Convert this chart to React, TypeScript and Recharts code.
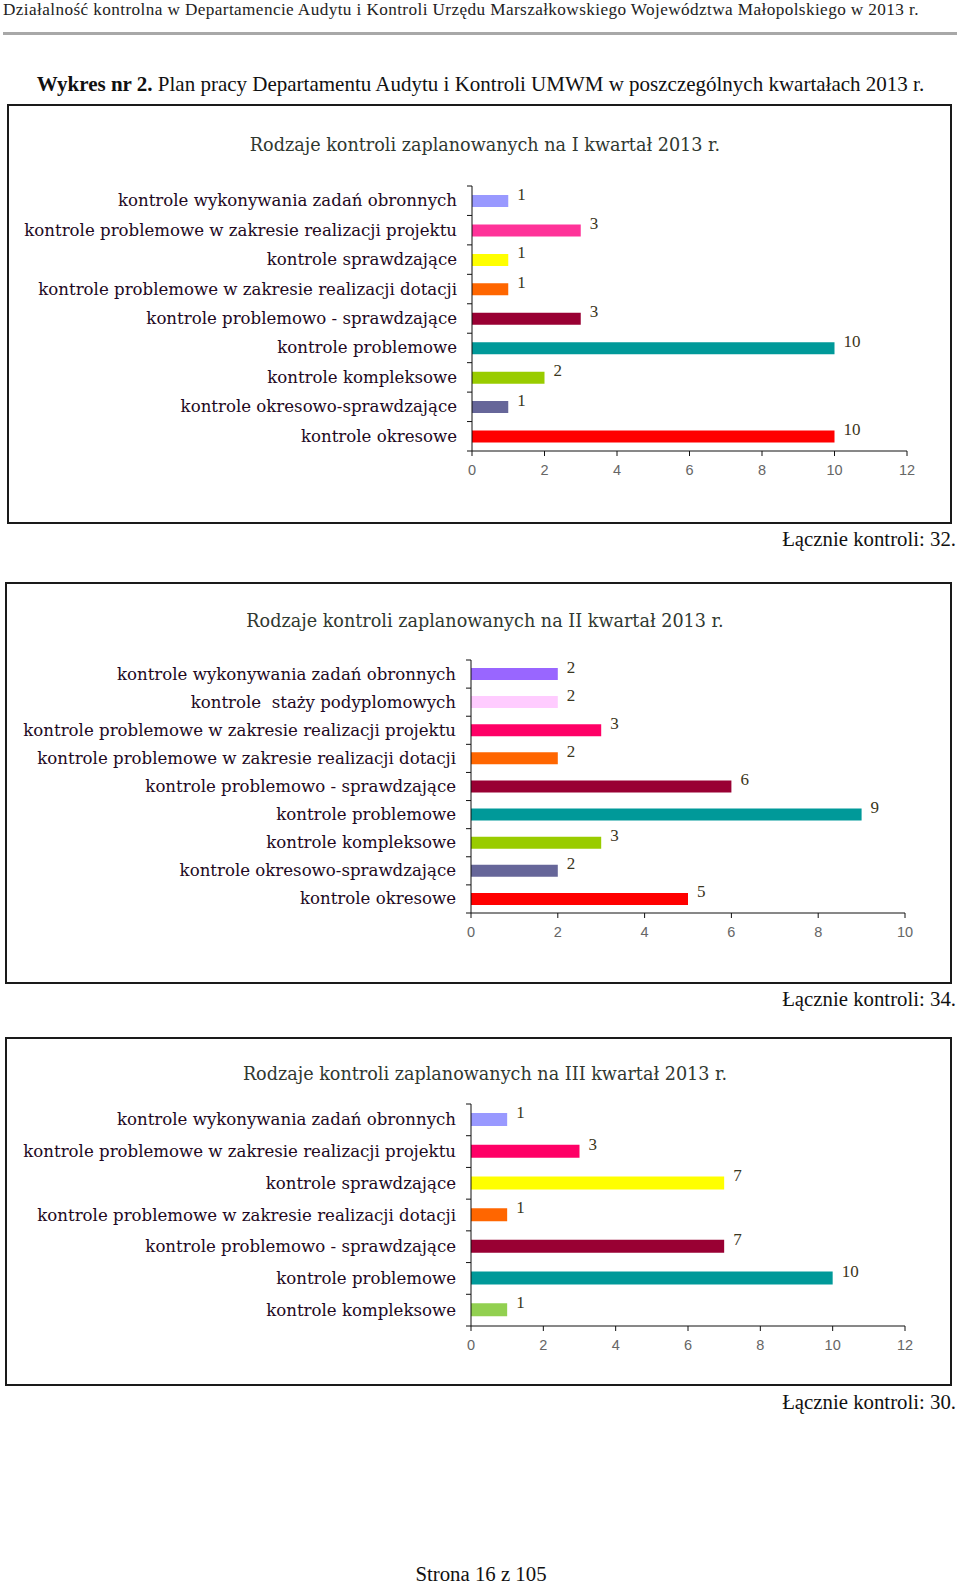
import React from "react";
import {
  BarChart,
  Bar,
  XAxis,
  YAxis,
  Cell,
  LabelList,
} from "recharts";

// Q1 2013
const q1Categories = [
  "kontrole wykonywania zadań obronnych",
  "kontrole problemowe w zakresie realizacji projektu",
  "kontrole sprawdzające",
  "kontrole problemowe w zakresie realizacji dotacji",
  "kontrole problemowo - sprawdzające",
  "kontrole problemowe",
  "kontrole kompleksowe",
  "kontrole okresowo-sprawdzające",
  "kontrole okresowe",
];
const q1Values = [1, 3, 1, 1, 3, 10, 2, 1, 10];
const q1Colors = ["#9999FF", "#FF3399", "#FFFF00", "#FF6600", "#990033", "#009999", "#99CC00", "#666699", "#FF0000"];
const q1Ticks = [0, 2, 4, 6, 8, 10, 12];

// Q2 2013
const q2Categories = [
  "kontrole wykonywania zadań obronnych",
  "kontrole  staży podyplomowych",
  "kontrole problemowe w zakresie realizacji projektu",
  "kontrole problemowe w zakresie realizacji dotacji",
  "kontrole problemowo - sprawdzające",
  "kontrole problemowe",
  "kontrole kompleksowe",
  "kontrole okresowo-sprawdzające",
  "kontrole okresowe",
];
const q2Values = [2, 2, 3, 2, 6, 9, 3, 2, 5];
const q2Colors = ["#9966FF", "#FFCCFF", "#FF0066", "#FF6600", "#990033", "#009999", "#99CC00", "#666699", "#FF0000"];
const q2Ticks = [0, 2, 4, 6, 8, 10];

// Q3 2013
const q3Categories = [
  "kontrole wykonywania zadań obronnych",
  "kontrole problemowe w zakresie realizacji projektu",
  "kontrole sprawdzające",
  "kontrole problemowe w zakresie realizacji dotacji",
  "kontrole problemowo - sprawdzające",
  "kontrole problemowe",
  "kontrole kompleksowe",
];
const q3Values = [1, 3, 7, 1, 7, 10, 1];
const q3Colors = ["#9999FF", "#FF0066", "#FFFF00", "#FF6600", "#990033", "#009999", "#92D050"];
const q3Ticks = [0, 2, 4, 6, 8, 10, 12];

const toRows = (cats: string[], vals: number[]) =>
  cats.map((name, i) => ({ name, value: vals[i] }));

const labelFont = "'DejaVu Serif', serif";
const pageFont = "'Liberation Serif', 'Times New Roman', serif";

const CategoryTick = (props: any) => {
  const { x, y, payload, index, visibleTicksCount } = props;
  const half = payload && payload.offset ? payload.offset : 0;
  const last = index === visibleTicksCount - 1;
  return (
    <g>
      <line x1={x - 5} x2={x} y1={y - half} y2={y - half} stroke="#111" />
      {last && <line x1={x - 5} x2={x} y1={y + half} y2={y + half} stroke="#111" />}
      <text
        x={x - 15}
        y={y}
        textAnchor="end"
        dominantBaseline="central"
        fontFamily={labelFont}
        fontSize={16.6}
        fill="#220822"
        style={{ whiteSpace: "pre" }}
      >
        {payload.value}
      </text>
    </g>
  );
};

const ValueLabel = (props: any) => {
  const { x, y, width, height, value } = props;
  return (
    <text
      x={x + width + 9}
      y={y + height / 2 - 7}
      dominantBaseline="central"
      fontFamily={pageFont}
      fontSize={17}
      fill="#3a3520"
    >
      {value}
    </text>
  );
};

type PanelProps = {
  title: string;
  total: string;
  categories: string[];
  values: number[];
  colors: string[];
  ticks: number[];
  box: { left: number; top: number; width: number; height: number };
  plot: { left: number; right: number; top: number; bottom: number };
  barSize: number;
  titleY: number;
  totalY: number;
};

const Panel = ({ title, total, categories, values, colors, ticks, box, plot, barSize, titleY, totalY }: PanelProps) => {
  const data = toRows(categories, values);
  const chartH = box.height;
  const xAxisH = 34;
  return (
    <>
      <div
        style={{
          position: "absolute",
          left: box.left,
          top: box.top,
          width: box.width,
          height: box.height,
          border: "2px solid #1a1a1a",
          boxSizing: "border-box",
          background: "#fff",
        }}
      />
      <div
        style={{
          position: "absolute",
          left: 0,
          width: 970,
          top: titleY - 12,
          height: 24,
          lineHeight: "24px",
          textAlign: "center",
          fontFamily: labelFont,
          fontSize: 17.6,
          color: "#303830",
          whiteSpace: "pre",
        }}
      >
        {title}
      </div>
      <div style={{ position: "absolute", left: 0, top: box.top }}>
        <BarChart
          layout="vertical"
          width={960}
          height={chartH}
          data={data}
          barCategoryGap={0}
          margin={{
            top: plot.top - box.top,
            bottom: box.top + chartH - plot.bottom - xAxisH,
            left: plot.left - 460,
            right: 960 - plot.right,
          }}
        >
          <XAxis
            type="number"
            domain={[0, ticks[ticks.length - 1]]}
            ticks={ticks}
            interval={0}
            height={xAxisH}
            axisLine={{ stroke: "#111" }}
            tickLine={{ stroke: "#111" }}
            tickSize={5}
            tickMargin={9}
            tick={{ fill: "#666", fontSize: 14.5, fontFamily: "'Liberation Sans', sans-serif" }}
          />
          <XAxis
            xAxisId="top"
            orientation="top"
            type="number"
            domain={[0, ticks[ticks.length - 1]]}
            height={0}
            tick={false}
            tickLine={false}
            axisLine={{ stroke: "#8a8a8a" }}
          />
          <YAxis
            type="category"
            dataKey="name"
            width={460}
            tickSize={0}
            tickMargin={0}
            axisLine={{ stroke: "#111" }}
            tickLine={false}
            interval={0}
            tick={<CategoryTick />}
          />
          <YAxis
            yAxisId="right"
            orientation="right"
            type="category"
            dataKey="name"
            width={0}
            tick={false}
            tickLine={false}
            axisLine={{ stroke: "#8a8a8a" }}
          />
          <Bar dataKey="value" barSize={barSize} isAnimationActive={false}>
            {data.map((d, i) => (
              <Cell key={d.name + i} fill={colors[i]} />
            ))}
            <LabelList dataKey="value" content={<ValueLabel />} />
          </Bar>
        </BarChart>
      </div>
      <div
        style={{
          position: "absolute",
          right: 4,
          top: totalY - 12,
          height: 24,
          lineHeight: "24px",
          fontFamily: pageFont,
          fontSize: 20.8,
          color: "#111",
        }}
      >
        {total}
      </div>
    </>
  );
};

export default function App() {
  return (
    <div
      style={{
        position: "absolute",
        left: 0,
        top: 0,
        width: 960,
        height: 1585,
        background: "#fff",
        overflow: "hidden",
      }}
    >
      <div
        style={{
          position: "absolute",
          left: 3,
          top: 0,
          height: 20,
          lineHeight: "20px",
          fontFamily: pageFont,
          fontSize: 17.2,
          color: "#222",
          whiteSpace: "nowrap",
          letterSpacing: 0.4,
        }}
      >
        Działalność kontrolna w Departamencie Audytu i Kontroli Urzędu Marszałkowskiego Województwa Małopolskiego w 2013 r.
      </div>
      <div style={{ position: "absolute", left: 3, top: 32, width: 954, height: 3, background: "#a8a8a8" }} />
      <div
        style={{
          position: "absolute",
          left: 0,
          width: 961,
          top: 71,
          height: 26,
          lineHeight: "26px",
          textAlign: "center",
          fontFamily: pageFont,
          fontSize: 21,
          color: "#111",
          whiteSpace: "nowrap",
        }}
      >
        <b>Wykres nr 2.</b> Plan pracy Departamentu Audytu i Kontroli UMWM w poszczególnych kwartałach 2013 r.
      </div>

      <Panel
        title="Rodzaje kontroli zaplanowanych na I kwartał 2013 r."
        total="Łącznie kontroli: 32."
        categories={q1Categories}
        values={q1Values}
        colors={q1Colors}
        ticks={q1Ticks}
        box={{ left: 7, top: 104, width: 945, height: 420 }}
        plot={{ left: 472, right: 907, top: 186, bottom: 451 }}
        barSize={12}
        titleY={145}
        totalY={539}
      />
      <Panel
        title="Rodzaje kontroli zaplanowanych na II kwartał 2013 r."
        total="Łącznie kontroli: 34."
        categories={q2Categories}
        values={q2Values}
        colors={q2Colors}
        ticks={q2Ticks}
        box={{ left: 5, top: 582, width: 947, height: 402 }}
        plot={{ left: 471, right: 905, top: 660, bottom: 913 }}
        barSize={12}
        titleY={621}
        totalY={999}
      />
      <Panel
        title="Rodzaje kontroli zaplanowanych na III kwartał 2013 r."
        total="Łącznie kontroli: 30."
        categories={q3Categories}
        values={q3Values}
        colors={q3Colors}
        ticks={q3Ticks}
        box={{ left: 5, top: 1037, width: 947, height: 349 }}
        plot={{ left: 471, right: 905, top: 1104, bottom: 1326 }}
        barSize={13}
        titleY={1074}
        totalY={1402}
      />

      <div
        style={{
          position: "absolute",
          left: 0,
          width: 962,
          top: 1562,
          height: 23,
          lineHeight: "23px",
          textAlign: "center",
          fontFamily: pageFont,
          fontSize: 20.8,
          color: "#111",
        }}
      >
        Strona 16 z 105
      </div>
    </div>
  );
}
